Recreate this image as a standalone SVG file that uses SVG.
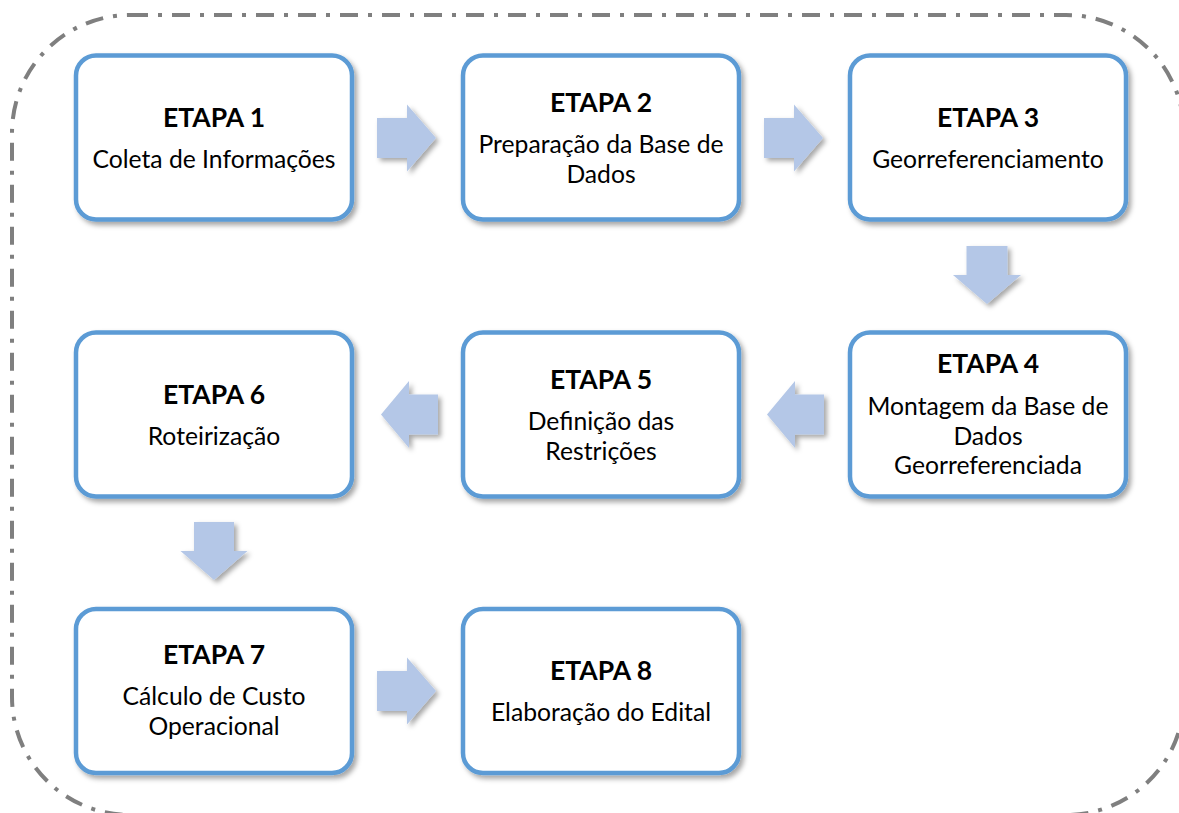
<svg xmlns="http://www.w3.org/2000/svg" width="1179" height="813" viewBox="0 0 1179 813">
<defs>
<filter id="sh" x="-20%" y="-20%" width="140%" height="140%">
<feDropShadow dx="3" dy="3.5" stdDeviation="2.5" flood-color="#000" flood-opacity="0.35"/>
</filter>
<filter id="ash" x="-30%" y="-30%" width="160%" height="160%">
<feDropShadow dx="3" dy="3" stdDeviation="2.5" flood-color="#000" flood-opacity="0.35"/>
</filter>
</defs>
<style>
.box{fill:#fff;stroke:#5B9BD5;stroke-width:4.5;filter:url(#sh)}
.t{font-family:Lato,"Open Sans","Liberation Sans",sans-serif;font-weight:bold;font-size:26.5px;fill:#000;text-anchor:middle}
.b{font-family:Lato,"Open Sans","Liberation Sans",sans-serif;font-size:24.7px;fill:#000;text-anchor:middle}
.arr{fill:#B4C7E7;filter:url(#ash)}
.frame{fill:none;stroke:#7F7F7F;stroke-width:4;stroke-dasharray:18 10 4 10}
</style>
<rect class="frame" x="12" y="15" width="1172" height="800" rx="118" ry="118"/>
<g id="connectors">
<polygon class="arr" points="377,118 407,118 407,104.5 436,138 407,171.5 407,158 377,158"/>
<polygon class="arr" points="764,118 794,118 794,104.5 823,138 794,171.5 794,158 764,158"/>
<polygon class="arr" points="966.5,246 1007.5,246 1007.5,275 1021,275 987,304 953,275 966.5,275"/>
<polygon class="arr" points="824,394.5 795,394.5 795,381 767,414.5 795,448 795,434.5 824,434.5"/>
<polygon class="arr" points="438,394.5 409,394.5 409,381 381,414.5 409,448 409,434.5 438,434.5"/>
<polygon class="arr" points="194,522 234,522 234,551 247.5,551 214,580 180.5,551 194,551"/>
<polygon class="arr" points="377,671 407,671 407,657.5 436,691 407,724.5 407,711 377,711"/>
</g>
<g id="etapa1">
<rect class="box" x="76" y="55.5" width="276" height="164" rx="20"/>
<text class="t" x="214" y="127">ETAPA 1</text>
<text class="b" x="214" y="168">Coleta de Informações</text>
</g>
<g id="etapa2">
<rect class="box" x="463" y="55.5" width="276" height="164" rx="20"/>
<text class="t" x="601" y="112">ETAPA 2</text>
<text class="b" x="601" y="153">Preparação da Base de</text>
<text class="b" x="601" y="183">Dados</text>
</g>
<g id="etapa3">
<rect class="box" x="850" y="55.5" width="276" height="164" rx="20"/>
<text class="t" x="988" y="127">ETAPA 3</text>
<text class="b" x="988" y="168">Georreferenciamento</text>
</g>
<g id="etapa4">
<rect class="box" x="850" y="332.5" width="276" height="164" rx="20"/>
<text class="t" x="988" y="373">ETAPA 4</text>
<text class="b" x="988" y="415">Montagem da Base de</text>
<text class="b" x="988" y="444.5">Dados</text>
<text class="b" x="988" y="473.5">Georreferenciada</text>
</g>
<g id="etapa5">
<rect class="box" x="463" y="332.5" width="276" height="164" rx="20"/>
<text class="t" x="601" y="389">ETAPA 5</text>
<text class="b" x="601" y="430">Definição das</text>
<text class="b" x="601" y="459.5">Restrições</text>
</g>
<g id="etapa6">
<rect class="box" x="76" y="332.5" width="276" height="164" rx="20"/>
<text class="t" x="214" y="404">ETAPA 6</text>
<text class="b" x="214" y="445">Roteirização</text>
</g>
<g id="etapa7">
<rect class="box" x="76" y="609" width="276" height="164" rx="20"/>
<text class="t" x="214" y="664">ETAPA 7</text>
<text class="b" x="214" y="705">Cálculo de Custo</text>
<text class="b" x="214" y="735">Operacional</text>
</g>
<g id="etapa8">
<rect class="box" x="463" y="609" width="276" height="164" rx="20"/>
<text class="t" x="601" y="680">ETAPA 8</text>
<text class="b" x="601" y="721">Elaboração do Edital</text>
</g>
</svg>
